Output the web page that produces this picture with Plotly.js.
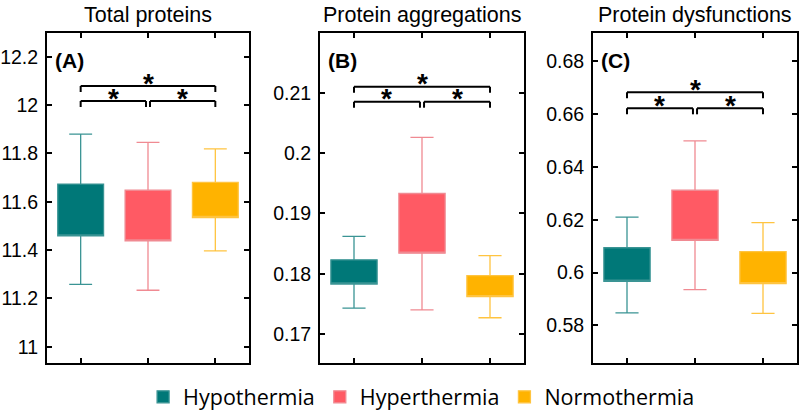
<!DOCTYPE html>
<html>
<head>
<meta charset="utf-8">
<script src="https://cdn.plot.ly/plotly-3.0.1.min.js"></script>
<style>html,body{margin:0;padding:0;background:#fff;}#chart{width:800px;height:410px;}</style>
</head>
<body>
<div id="chart"></div>
<script>
// ---- data ----
const groups = ['Hypothermia', 'Hyperthermia', 'Normothermia'];
const panelTitles = ['Total proteins', 'Protein aggregations', 'Protein dysfunctions'];
const panelLabels = ['(A)', '(B)', '(C)'];

// Total proteins
const totalLower = [11.258, 11.234, 11.397];
const totalQ1    = [11.459, 11.438, 11.535];
const totalQ3    = [11.673, 11.648, 11.680];
const totalUpper = [11.880, 11.846, 11.819];

// Protein aggregations
const aggLower = [0.1743, 0.1740, 0.1727];
const aggQ1    = [0.1783, 0.1834, 0.1762];
const aggQ3    = [0.1823, 0.1933, 0.1797];
const aggUpper = [0.1862, 0.2026, 0.1830];

// Protein dysfunctions
const dysLower = [0.5847, 0.5935, 0.5845];
const dysQ1    = [0.5967, 0.6122, 0.5958];
const dysQ3    = [0.6094, 0.6312, 0.6079];
const dysUpper = [0.6210, 0.6499, 0.6189];

// ---- styling ----
const fillColors = ['#007878', '#ff5a64', '#ffb300'];
const lineColors = ['#3a9494', '#f08a92', '#ffc440'];

const panels = [
  {lower: totalLower, q1: totalQ1, q3: totalQ3, upper: totalUpper, range: [10.933, 12.298], dtick: 0.2, tick0: 11,
   dom: [0.05875, 0.31125], top: 0.8394, low: 0.7939},
  {lower: aggLower, q1: aggQ1, q3: aggQ3, upper: aggUpper, range: [0.1652, 0.2199], dtick: 0.01, tick0: 0.17,
   dom: [0.4, 0.655], top: 0.8373, low: 0.7918},
  {lower: dysLower, q1: dysQ1, q3: dysQ3, upper: dysUpper, range: [0.5657, 0.6908], dtick: 0.02, tick0: 0.58,
   dom: [0.74125, 0.99625], top: 0.8203, low: 0.7718}
];

const traces = [];
const layout = {
  width: 800, height: 410,
  margin: {l: 0, r: 0, t: 0, b: 0, autoexpand: false},
  paper_bgcolor: '#fff', plot_bgcolor: '#fff',
  font: {family: 'Liberation Sans, Arial, sans-serif', color: '#000', size: 20},
  showlegend: true,
  legend: {orientation: 'h', x: 0.527, xanchor: 'center', y: 0.032, yanchor: 'middle',
           font: {family: 'Open Sans, sans-serif', size: 21.5, color: '#000'}},
  annotations: [], shapes: []
};

const yDom = [0.1146, 0.9195];
panels.forEach((p, i) => {
  const n = i + 1;
  const sfx = n === 1 ? '' : String(n);
  const xa = 'x' + sfx, ya = 'y' + sfx;
  groups.forEach((g, j) => {
    traces.push({
      type: 'box', name: g, legendgroup: g, showlegend: i === 0,
      x: [j + 1], q1: [p.q1[j]], median: [p.q1[j]], q3: [p.q3[j]],
      lowerfence: [p.lower[j]], upperfence: [p.upper[j]],
      width: 0.68, whiskerwidth: 0.5,
      fillcolor: fillColors[j], line: {color: lineColors[j], width: 1.3},
      boxpoints: false, hoverinfo: 'skip',
      xaxis: xa, yaxis: ya
    });
  });
  const axCommon = {showline: true, linecolor: '#000', linewidth: 2, mirror: 'ticks', ticks: 'inside',
                    ticklen: 5, tickwidth: 2, tickcolor: '#000', showgrid: false, zeroline: false};
  layout['xaxis' + sfx] = Object.assign({}, axCommon, {
    domain: p.dom, range: [0.5, 3.5], tickvals: [1, 2, 3], showticklabels: false, anchor: ya});
  layout['yaxis' + sfx] = Object.assign({}, axCommon, {
    domain: yDom, range: p.range, tick0: p.tick0, dtick: p.dtick, anchor: xa,
    tickfont: {size: 19.5, color: '#000'}, ticklabelstandoff: 3});

  // panel title
  layout.annotations.push({text: panelTitles[i], xref: xa + ' domain', yref: 'paper', x: 0.5, y: 1 - 15 / 410,
    xanchor: 'center', yanchor: 'middle', showarrow: false, font: {size: 21.5, color: '#000'}});
  // panel label
  layout.annotations.push({text: '<b>' + panelLabels[i] + '</b>', xref: xa + ' domain', yref: ya + ' domain',
    x: 0.03, y: 0.917, xanchor: 'left', yanchor: 'middle', showarrow: false, font: {size: 21, color: '#000'}});

  // significance brackets
  const drop = 6 / 330;
  const brackets = [[1, 3, p.top], [1, 1.97, p.low], [2.03, 3, p.low]];
  brackets.forEach(b => {
    const ln = {color: '#000', width: 2};
    layout.shapes.push({type: 'line', xref: xa, yref: ya + ' domain', x0: b[0], x1: b[1], y0: b[2], y1: b[2], line: ln});
    layout.shapes.push({type: 'line', xref: xa, yref: ya + ' domain', x0: b[0], x1: b[0], y0: b[2], y1: b[2] - drop, line: ln});
    layout.shapes.push({type: 'line', xref: xa, yref: ya + ' domain', x0: b[1], x1: b[1], y0: b[2], y1: b[2] - drop, line: ln});
    layout.annotations.push({text: '<b>*</b>', xref: xa, yref: ya + ' domain', x: (b[0] + b[1]) / 2, y: b[2],
      xanchor: 'center', yanchor: 'middle', yshift: 3, showarrow: false, font: {size: 28, color: '#000'}});
  });
});

Plotly.newPlot('chart', traces, layout, {displayModeBar: false, staticPlot: true});
</script>
</body>
</html>
